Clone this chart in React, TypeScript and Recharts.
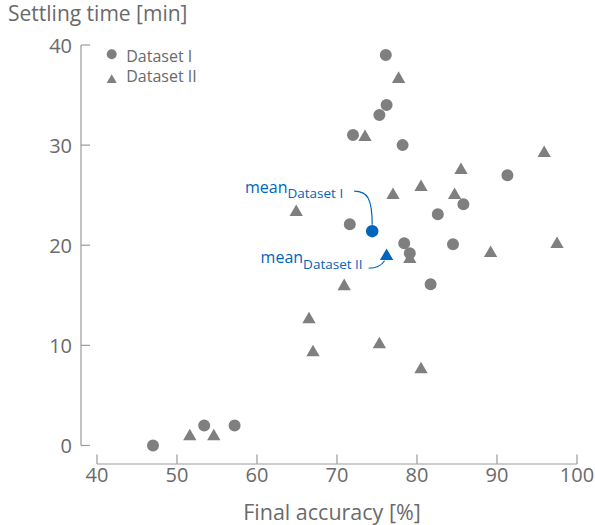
import React from 'react';
import { ScatterChart, Scatter, XAxis, YAxis, ReferenceLine, Legend, Symbols, Label } from 'recharts';

// ---- data ----
const seriesNames = ['Dataset I', 'Dataset II'];
const datasetIAccuracy = [76.1, 76.2, 75.3, 72.0, 78.2, 91.3, 85.8, 82.6, 71.6, 78.4, 79.1, 84.5, 81.7, 47.0, 53.4, 57.2];
const datasetISettling = [39.0, 34.0, 33.0, 31.0, 30.0, 27.0, 24.1, 23.1, 22.1, 20.2, 19.2, 20.1, 16.1, 0.0, 2.0, 2.0];
const datasetIIAccuracy = [77.7, 73.5, 95.9, 85.5, 80.5, 77.0, 84.7, 64.9, 79.1, 89.2, 97.5, 70.9, 66.5, 67.0, 75.3, 80.5, 51.6, 54.6];
const datasetIISettling = [36.6, 30.8, 29.2, 27.5, 25.8, 25.0, 25.0, 23.3, 18.6, 19.2, 20.1, 15.9, 12.6, 9.3, 10.1, 7.6, 0.9, 0.9];
const meanIAccuracy = [74.4];
const meanISettling = [21.4];
const meanIIAccuracy = [76.2];
const meanIISettling = [18.9];
const xTicks = [40, 50, 60, 70, 80, 90, 100];
const yTicks = [0, 10, 20, 30, 40];
const xTitle = 'Final accuracy [%]';
const yTitle = 'Settling time [min]';
const meanLabel = 'mean';

// ---- styling ----
const X_MIN = 38;
const X_MAX = 100;
const Y_MIN = -1.85;
const Y_MAX = 40;
const GRAY = '#7f7f7f';
const AXIS = '#9a9a9a';
const TEXT = '#6a6a6a';
const BLUE = '#0065bd';
const FONT = "'Open Sans', sans-serif";

const toPoints = (xs: number[], ys: number[]) => xs.map((x, i) => ({ x, y: ys[i] }));
const dataI = toPoints(datasetIAccuracy, datasetISettling);
const dataII = toPoints(datasetIIAccuracy, datasetIISettling);
const dataMeanI = toPoints(meanIAccuracy, meanISettling);
const dataMeanII = toPoints(meanIIAccuracy, meanIISettling);

const XTick = (props: any) => {
  const { x, y, payload } = props;
  return (
    <text x={x} y={y + 18} textAnchor="middle" fill={TEXT} fontSize={20} fontFamily={FONT}>
      {payload.value}
    </text>
  );
};

const YTick = (props: any) => {
  const { x, y, payload } = props;
  return (
    <text x={x} y={y + 8} textAnchor="end" fill={TEXT} fontSize={20} fontFamily={FONT}>
      {payload.value}
    </text>
  );
};

const CircleShape = (p: any) => <Symbols type="circle" size={113} cx={p.cx} cy={p.cy} fill={GRAY} />;
const TriangleShape = (p: any) => <Symbols type="triangle" size={77} cx={p.cx} cy={p.cy} fill={GRAY} />;

const MeanIShape = (p: any) => {
  const { cx, cy } = p;
  return (
    <g>
      <path
        d={`M${cx - 18},${cy - 40} C${cx - 5},${cy - 40} ${cx},${cy - 33} ${cx},${cy - 6.5}`}
        fill="none"
        stroke={BLUE}
        strokeWidth={1.2}
      />
      <circle cx={cx} cy={cy} r={6.2} fill={BLUE} />
      <text x={cx - 29} y={cy - 38} textAnchor="end" fill={BLUE} fontFamily={FONT}>
        <tspan fontSize={16}>{meanLabel}</tspan>
        <tspan fontSize={13.5} dy={5}>{seriesNames[0]}</tspan>
      </text>
    </g>
  );
};

const MeanIIShape = (p: any) => {
  const { cx, cy } = p;
  return (
    <g>
      <path
        d={`M${cx - 18},${cy + 12} C${cx - 10},${cy + 12} ${cx - 5},${cy + 9} ${cx - 2},${cy + 4.5}`}
        fill="none"
        stroke={BLUE}
        strokeWidth={1.2}
      />
      <Symbols type="triangle" size={77} cx={cx} cy={cy} fill={BLUE} />
      <text x={cx - 24} y={cy + 7} textAnchor="end" fill={BLUE} fontFamily={FONT}>
        <tspan fontSize={16}>{meanLabel}</tspan>
        <tspan fontSize={13.5} dy={5.5}>{seriesNames[1]}</tspan>
      </text>
    </g>
  );
};

const LegendContent = (props: any) => {
  const payload = (props.payload || []).filter((e: any) => e.type !== 'none');
  return (
    <svg width={150} height={52}>
      {payload.map((e: any, i: number) => (
        <g key={i}>
          {e.type === 'triangle' ? (
            <Symbols type="triangle" size={44} cx={11.7} cy={14.3 + i * 25.8} fill={GRAY} />
          ) : (
            <Symbols type="circle" size={78} cx={11.7} cy={14.3 + i * 20} fill={GRAY} />
          )}
          <text x={26.2} y={21.6 + i * 20.6} fill={TEXT} fontSize={16} fontFamily={FONT}>
            {e.value}
          </text>
        </g>
      ))}
    </svg>
  );
};

export default function App() {
  return (
    <div style={{ position: 'absolute', left: 0, top: 0, width: 595, height: 525, background: '#fff' }}>
      <ScatterChart width={595} height={525} margin={{ top: 45, right: 18, bottom: 0, left: 0 }}>
        <XAxis
          type="number"
          dataKey="x"
          domain={[X_MIN, X_MAX]}
          ticks={xTicks}
          interval={0}
          allowDataOverflow
          axisLine={false}
          tickLine={false}
          tickSize={0}
          tickMargin={0}
          height={61}
          tick={XTick}
        >
          <Label
            value={xTitle}
            content={(lp: any) => {
              const vb = lp.viewBox || { x: 81, width: 496 };
              return (
                <text x={vb.x + vb.width / 2 + 3} y={520} textAnchor="middle" fill={TEXT} fontSize={21.5} fontFamily={FONT}>
                  {xTitle}
                </text>
              );
            }}
          />
        </XAxis>
        <YAxis
          type="number"
          dataKey="y"
          domain={[Y_MIN, Y_MAX]}
          ticks={yTicks}
          interval={0}
          allowDataOverflow
          axisLine={false}
          tickLine={false}
          tickSize={0}
          tickMargin={9}
          width={81}
          tick={YTick}
        >
          <Label
            value={yTitle}
            content={() => (
              <text x={8} y={21} textAnchor="start" fill={TEXT} fontSize={21} fontFamily={FONT}>
                {yTitle}
              </text>
            )}
          />
        </YAxis>

        {/* detached axis lines and inward ticks */}
        <ReferenceLine
          segment={[{ x: X_MIN, y: 0 }, { x: X_MIN, y: Y_MAX }]}
          stroke={AXIS}
          strokeWidth={1.2}
          ifOverflow="visible"
        />
        {yTicks.map((v) => (
          <ReferenceLine
            key={`yt${v}`}
            segment={[{ x: X_MIN, y: v }, { x: X_MIN + 1.12, y: v }]}
            stroke={AXIS}
            strokeWidth={1.2}
            ifOverflow="visible"
          />
        ))}
        <ReferenceLine
          segment={[{ x: 40, y: Y_MIN }, { x: X_MAX, y: Y_MIN }]}
          stroke={AXIS}
          strokeWidth={1.2}
          ifOverflow="visible"
        />
        {xTicks.map((v) => (
          <ReferenceLine
            key={`xt${v}`}
            segment={[{ x: v, y: Y_MIN }, { x: v, y: Y_MIN + 0.95 }]}
            stroke={AXIS}
            strokeWidth={1.2}
            ifOverflow="visible"
          />
        ))}

        <Legend
          layout="vertical"
          align="center"
          verticalAlign="middle"
          wrapperStyle={{ left: 100, top: 40, width: 150, height: 52 }}
          content={LegendContent}
        />

        <Scatter name={seriesNames[0]} data={dataI} fill={GRAY} shape={CircleShape} legendType="circle" isAnimationActive={false} />
        <Scatter name={seriesNames[1]} data={dataII} fill={GRAY} shape={TriangleShape} legendType="triangle" isAnimationActive={false} />
        <Scatter name="meanI" data={dataMeanI} fill={BLUE} shape={MeanIShape} legendType="none" isAnimationActive={false} />
        <Scatter name="meanII" data={dataMeanII} fill={BLUE} shape={MeanIIShape} legendType="none" isAnimationActive={false} />
      </ScatterChart>
    </div>
  );
}
